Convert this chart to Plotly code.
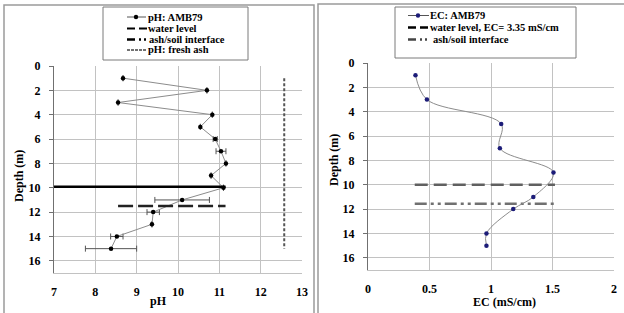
import plotly.graph_objects as go

# ---------------- data ----------------
ph_depth = [1, 2, 3, 4, 5, 6, 7, 8, 9, 10, 11, 12, 13, 14, 15]
ph_values = [8.67, 10.70, 8.55, 10.83, 10.54, 10.90, 11.04, 11.16, 10.80, 11.10, 10.10, 9.40, 9.37, 8.52, 8.38]
ph_err = [0, 0, 0, 0, 0, 0.05, 0.12, 0, 0, 0, 0.66, 0.15, 0, 0.15, 0.62]

fresh_ash_ph = [12.57, 12.57]
fresh_ash_depth = [1, 15]

ph_water_x = [7.0, 11.15]
ph_water_depth = [9.92, 9.92]
ph_ash_x = [8.55, 11.15]
ph_ash_depth = [11.5, 11.5]

ec_depth = [1, 3, 5, 7, 9, 11, 12, 14, 15]
ec_values = [0.386, 0.479, 1.083, 1.072, 1.508, 1.344, 1.181, 0.963, 0.963]

ec_water_x = [0.38, 1.52]
ec_water_depth = [10.0, 10.0]
ec_ash_x = [0.38, 1.52]
ec_ash_depth = [11.55, 11.55]

ph_ticks = [7, 8, 9, 10, 11, 12, 13]
ec_ticks = [0, 0.5, 1, 1.5, 2]
ec_ticktext = ["0", "0.5", "1", "1.5", "2"]
depth_ticks = [0, 2, 4, 6, 8, 10, 12, 14, 16]

W, H = 624, 313
FONT = "Liberation Serif"


def px(x):
    return x / W


def py(y):
    return 1 - y / H


fig = go.Figure()

# ---------------- left panel: pH ----------------
fig.add_trace(go.Scatter(
    x=ph_values, y=ph_depth, mode="lines+markers", name="pH: AMB79",
    line=dict(color="#8c8c8c", width=1),
    marker=dict(color="black", size=4.5),
    error_x=dict(type="data", array=ph_err, color="#555555", thickness=1, width=3),
    xaxis="x", yaxis="y", showlegend=False))
fig.add_trace(go.Scatter(
    x=fresh_ash_ph, y=fresh_ash_depth, mode="lines", name="pH: fresh ash",
    line=dict(color="#555555", width=2, dash="3px,2px"),
    xaxis="x", yaxis="y", showlegend=False))
fig.add_trace(go.Scatter(
    x=ph_water_x, y=ph_water_depth, mode="lines", name="water level",
    line=dict(color="black", width=2.5),
    xaxis="x", yaxis="y", showlegend=False))
fig.add_trace(go.Scatter(
    x=ph_ash_x, y=ph_ash_depth, mode="lines", name="ash/soil interface",
    line=dict(color="#222222", width=2.5, dash="15px,5px"),
    xaxis="x", yaxis="y", showlegend=False))

# ---------------- right panel: EC ----------------
fig.add_trace(go.Scatter(
    x=ec_water_x, y=ec_water_depth, mode="lines", name="water level, EC= 3.35 mS/cm",
    line=dict(color="#606060", width=2.5, dash="13px,6px"),
    xaxis="x2", yaxis="y2", showlegend=False))
fig.add_trace(go.Scatter(
    x=ec_ash_x, y=ec_ash_depth, mode="lines", name="ash/soil interface",
    line=dict(color="#707070", width=2.5, dash="12px,4px,3px,4px,3px,4px"),
    xaxis="x2", yaxis="y2", showlegend=False))
fig.add_trace(go.Scatter(
    x=ec_values, y=ec_depth, mode="lines+markers", name="EC: AMB79",
    line=dict(color="#8c8c8c", width=1, shape="spline", smoothing=1),
    marker=dict(color="#1c1c78", size=4.5),
    xaxis="x2", yaxis="y2", showlegend=False))

tickfont = dict(family=FONT, size=12, color="black", weight="bold")
grid = "#c2c2c2"
axcol = "#707070"

common_x = dict(showgrid=True, gridcolor=grid, gridwidth=1, zeroline=False,
                showline=True, linecolor=grid, linewidth=1, mirror=False,
                ticks="", tickfont=tickfont, ticklabelstandoff=8)
common_y = dict(showgrid=True, gridcolor=grid, gridwidth=1, zeroline=False,
                showline=True, linecolor=axcol, linewidth=1, ticks="outside",
                ticklen=4, tickcolor=axcol, tickfont=tickfont, ticklabelstandoff=6,
                tickvals=depth_ticks, range=[17, 0], autorange=False)
top_x = dict(side="top", showgrid=False, zeroline=False, showline=True,
             linecolor=axcol, linewidth=1, ticks="outside", ticklen=4,
             tickcolor=axcol, showticklabels=False, autorange=False)

fig.update_layout(
    template="none",
    width=W, height=H,
    margin=dict(l=0, r=0, t=0, b=0),
    paper_bgcolor="white", plot_bgcolor="white",
    showlegend=False,
    xaxis=dict(domain=[px(54), px(302)], range=[7, 13], autorange=False,
               tickvals=ph_ticks, anchor="y", **common_x),
    yaxis=dict(domain=[py(273), py(66)], anchor="x", **common_y),
    xaxis3=dict(overlaying="x", anchor="y", range=[7, 13], tickvals=ph_ticks, **top_x),
    xaxis2=dict(domain=[px(368), px(614)], range=[0, 2], autorange=False,
                tickvals=ec_ticks, ticktext=ec_ticktext, anchor="y2", **common_x),
    yaxis2=dict(domain=[py(270), py(63)], anchor="x2", **common_y),
    xaxis4=dict(overlaying="x2", anchor="y2", range=[0, 2], tickvals=ec_ticks, **top_x),
)

shapes = []
annotations = []

# outer panel frames
shapes.append(dict(type="rect", xref="paper", yref="paper", x0=px(4), x1=px(314),
                   y0=py(330), y1=py(5), line=dict(color="#9a9a9a", width=1.5)))
shapes.append(dict(type="rect", xref="paper", yref="paper", x0=px(318), x1=px(640),
                   y0=py(330), y1=py(4), line=dict(color="#9a9a9a", width=1.5)))

legfont = dict(family=FONT, size=10.5, color="black", weight="bold")


def legend_box(x0, y0, x1, y1):
    shapes.append(dict(type="rect", xref="paper", yref="paper", x0=px(x0), x1=px(x1),
                       y0=py(y1), y1=py(y0), line=dict(color="#7a7a7a", width=1),
                       fillcolor="white"))


def legend_line(x0, x1, y, color, width, dash):
    shapes.append(dict(type="line", xref="paper", yref="paper", x0=px(x0), x1=px(x1),
                       y0=py(y), y1=py(y), line=dict(color=color, width=width, dash=dash)))


def legend_dot(x, y, color):
    shapes.append(dict(type="circle", xref="paper", yref="paper", xsizemode="pixel",
                       ysizemode="pixel", xanchor=px(x), yanchor=py(y),
                       x0=-2.2, x1=2.2, y0=-2.2, y1=2.2,
                       fillcolor=color, line=dict(color=color, width=0)))


def legend_text(x, y, text):
    annotations.append(dict(xref="paper", yref="paper", x=px(x), y=py(y), text=text,
                            showarrow=False, xanchor="left", yanchor="middle",
                            font=legfont, borderpad=0))


# left legend
legend_box(103, 7, 248, 60)
legend_line(127, 146, 17, "#555555", 1, "solid")
legend_dot(136, 17, "black")
legend_text(147, 17, "pH: AMB79")
legend_line(127, 147, 28.5, "black", 2, "8px,4px")
legend_text(147, 28.5, "water level")
legend_line(127, 147, 39.5, "black", 2.5, "8px,4px,2px,3px,2px,3px")
legend_text(148, 39.5, "ash/soil interface")
legend_line(127, 147, 50, "#444444", 1.5, "3px,1px")
legend_text(147, 50, "pH: fresh ash")

# right legend
legend_box(395, 7, 576, 58)
legend_line(408, 429, 15.5, "#555555", 1, "solid")
legend_dot(418, 15.5, "#1c1c78")
legend_text(429, 15.5, "EC: AMB79")
legend_line(408, 429, 27.5, "black", 2.5, "8px,4px")
legend_text(429, 27.5, "water level, EC= 3.35 mS/cm")
legend_line(408, 429, 39.5, "#444444", 2.5, "8px,4px,2px,3px,2px,3px")
legend_text(432, 39.5, "ash/soil interface")

# axis titles
titlefont = dict(family=FONT, size=12, color="black", weight="bold")
annotations.append(dict(xref="paper", yref="paper", x=px(158), y=py(301), text="pH",
                        showarrow=False, xanchor="center", yanchor="middle", font=titlefont))
annotations.append(dict(xref="paper", yref="paper", x=px(504), y=py(302), text="EC (mS/cm)",
                        showarrow=False, xanchor="center", yanchor="middle", font=titlefont))
annotations.append(dict(xref="paper", yref="paper", x=px(19), y=py(176), text="Depth (m)",
                        textangle=-90, showarrow=False, xanchor="center", yanchor="middle",
                        font=titlefont))
annotations.append(dict(xref="paper", yref="paper", x=px(334), y=py(160), text="Depth (m)",
                        textangle=-90, showarrow=False, xanchor="center", yanchor="middle",
                        font=titlefont))

fig.update_layout(shapes=shapes, annotations=annotations)

fig.write_html("out.html", config={"displayModeBar": False},
               post_script="document.body.style.margin='0';document.body.style.overflow='hidden';")
